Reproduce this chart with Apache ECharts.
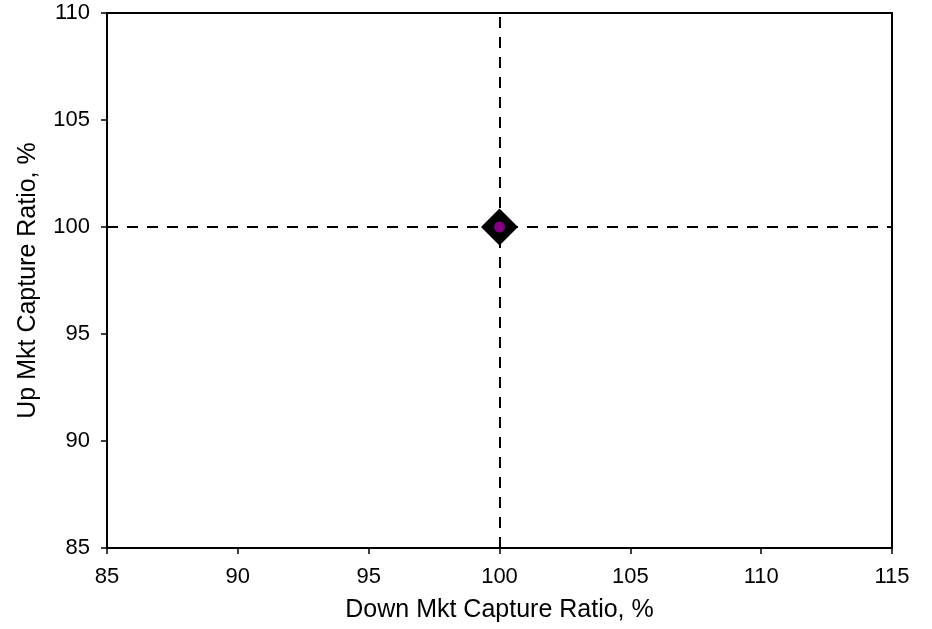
<!DOCTYPE html>
<html>
<head>
<meta charset="utf-8">
<script src="https://cdn.jsdelivr.net/npm/echarts@6/dist/echarts.min.js"></script>
<style>html,body{margin:0;padding:0;background:#fff;overflow:hidden}#c{width:932px;height:629px}</style>
</head>
<body>
<div id="c"></div>
<script>
// Data
const xAxisName = 'Down Mkt Capture Ratio, %';
const yAxisName = 'Up Mkt Capture Ratio, %';
const xRange = [85, 115];
const yRange = [85, 110];
const tickStep = 5;
const downCapture = [100];   // x values
const upCapture = [100];     // y values
const referenceX = [100];
const referenceY = [100];

const points = downCapture.map((x, i) => [x, upCapture[i]]);
const font = 'Liberation Sans, Arial, sans-serif';

const chart = echarts.init(document.getElementById('c'), null, { width: 932, height: 629 });
chart.setOption({
  animation: false,
  backgroundColor: '#fff',
  grid: { left: 107, width: 785, top: 13, height: 535, show: true, borderColor: '#000', borderWidth: 2, containLabel: false },
  xAxis: {
    type: 'value', min: xRange[0], max: xRange[1], interval: tickStep,
    name: xAxisName, nameLocation: 'middle', nameGap: 50,
    nameTextStyle: { fontFamily: font, fontSize: 25, color: '#000' },
    axisLine: { show: true, lineStyle: { color: '#000', width: 2 } },
    axisTick: { show: true, length: 6, lineStyle: { color: '#000', width: 1.5 } },
    axisLabel: { fontFamily: font, fontSize: 22, color: '#000', margin: 18 },
    splitLine: { show: false }
  },
  yAxis: {
    type: 'value', min: yRange[0], max: yRange[1], interval: tickStep,
    name: yAxisName, nameLocation: 'middle', nameGap: 66,
    nameTextStyle: { fontFamily: font, fontSize: 25, color: '#000' },
    axisLine: { show: true, lineStyle: { color: '#000', width: 2 } },
    axisTick: { show: true, length: 6, lineStyle: { color: '#000', width: 1.5 } },
    axisLabel: { fontFamily: font, fontSize: 22, color: '#000', margin: 17 },
    splitLine: { show: false }
  },
  series: [
    {
      type: 'line', data: [], z: 1, silent: true,
      markLine: {
        silent: true, symbol: 'none', animation: false, z: 1,
        label: { show: false },
        lineStyle: { color: '#000', width: 2, type: [11, 9], opacity: 1 },
        data: [
          ...referenceX.map(v => ({ xAxis: v })),
          ...referenceY.map(v => ({ yAxis: v }))
        ]
      }
    },
    {
      type: 'scatter', data: points, symbol: 'diamond', symbolSize: 37, z: 5,
      itemStyle: { color: '#000', opacity: 1 }
    },
    {
      type: 'scatter', data: points, symbol: 'circle', symbolSize: 11, z: 6,
      itemStyle: { color: '#800080', opacity: 1 }
    }
  ]
});
</script>
</body>
</html>
